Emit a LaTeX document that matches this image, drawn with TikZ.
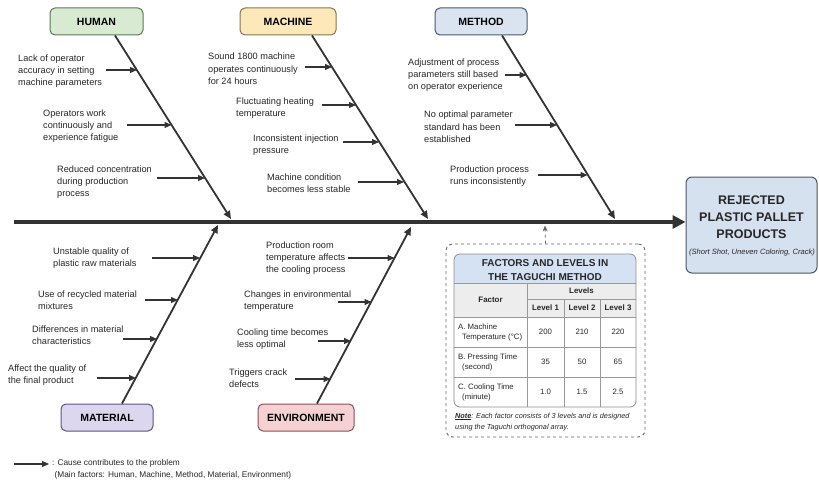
\documentclass[tikz,border=0pt]{standalone}
\usepackage{fontspec}
\setmainfont{Liberation Sans}
\usepackage{xcolor}
\usepackage{tikz}
\usetikzlibrary{arrows.meta,positioning}

\definecolor{humanfill}{HTML}{D9EAD3}
\definecolor{humandraw}{HTML}{5E7656}
\definecolor{machfill}{HTML}{FCE8B9}
\definecolor{machdraw}{HTML}{857650}
\definecolor{methfill}{HTML}{DAE4F1}
\definecolor{methdraw}{HTML}{4A5970}
\definecolor{matfill}{HTML}{DCD7EE}
\definecolor{matdraw}{HTML}{5A5484}
\definecolor{envfill}{HTML}{F5D1D3}
\definecolor{envdraw}{HTML}{8C4E56}
\definecolor{efffill}{HTML}{D6E1F0}
\definecolor{effdraw}{HTML}{4A5668}
\definecolor{ttlfill}{HTML}{D4E2F4}
\definecolor{hdrfill}{HTML}{EDEDED}
\definecolor{arrowgray}{HTML}{333333}
\definecolor{textgray}{HTML}{262626}

\begin{document}
\begin{tikzpicture}[x=1pt, y=-1pt,
			cat/.style={draw, rounded corners=5pt, line width=1pt, minimum width=93pt,
				minimum height=27pt, inner sep=0pt, font=\fontsize{10.5}{12}\selectfont\bfseries},
			humannd/.style={cat, fill=humanfill, draw=humandraw},
			machnd/.style ={cat, minimum width=96pt, fill=machfill, draw=machdraw},
			methnd/.style ={cat, minimum width=92pt, fill=methfill, draw=methdraw},
			matnd/.style  ={cat, minimum width=92pt, fill=matfill,  draw=matdraw},
			envnd/.style  ={cat, minimum width=96pt, fill=envfill,  draw=envdraw},
			effnd/.style  ={draw=effdraw, fill=efffill, line width=1pt, rounded corners=6pt,
				minimum width=131pt, minimum height=96pt},
			cause/.style={font=\fontsize{9.2}{12.3}\selectfont, align=left, inner sep=0pt,
				anchor=west, text=textgray},
			spine/.style={line width=3.5pt, draw=arrowgray, -{Triangle[length=13pt,width=13pt]}},
			bone/.style ={line width=1.8pt, draw=arrowgray, -{Triangle[length=8pt,width=7pt]}},
			sub/.style  ={line width=1.1pt, draw=arrowgray, -{Triangle[length=7pt,width=6pt]}},
			panel/.style={draw=black!60, dashed, line width=0.9pt, rounded corners=7pt,
				minimum width=199pt, minimum height=193pt, inner sep=0pt},
			tblbox/.style={draw=black!45, line width=0.8pt, rounded corners=6pt,
				minimum width=182pt, minimum height=153pt, inner sep=0pt},
			grid/.style={draw=black!40, line width=0.6pt},
			cell/.style={font=\fontsize{7.8}{10}\selectfont, inner sep=0pt, text=textgray},
			hcell/.style={cell, font=\fontsize{7.9}{10}\selectfont\bfseries},
			fcell/.style={cell, align=left, anchor=west},
			]
			
			\useasboundingbox (0,0) rectangle (819,484);
			
			%% ── Effect (head of the fish) ─────────────────────────────────────────────
			\node[effnd] (effect) at (751.5,225) {};
			\node[font=\fontsize{12.5}{17}\selectfont\bfseries, align=center, text=textgray]
				(efftitle) at (751.5,217) {REJECTED\\PLASTIC PALLET\\PRODUCTS};
			\node[font=\fontsize{7.6}{9}\selectfont\itshape, text=textgray, inner sep=0pt]
				(effsub) at (752,253) {(Short Shot, Uneven Coloring, Crack)};
			
			%% ── Spine ─────────────────────────────────────────────────────────────────
			\coordinate (tail) at (14,222);
			\draw[spine] (tail) -- (tail -| effect.west);
			
			%% ── Main categories ───────────────────────────────────────────────────────
			\node[humannd] (human)   at (96.5,21.5)  {HUMAN};
			\node[machnd]  (machine) at (288,21.5)   {MACHINE};
			\node[methnd]  (method)  at (481,21.5)   {METHOD};
			\node[matnd]   (material) at (107,417.5) {MATERIAL};
			\node[envnd]   (environment) at (306,417.5) {ENVIRONMENT};
			
			%% ── Bones ─────────────────────────────────────────────────────────────────
			\coordinate (hend) at (231,219);
			\coordinate (mend) at (428,219);
			\coordinate (dend) at (615,219);
			\coordinate (aend) at (218,225);
			\coordinate (eend) at (411,227);
			\draw[bone] ([xshift=18.5pt]human.south)   -- (hend);
			\draw[bone] ([xshift=24pt]machine.south)   -- (mend);
			\draw[bone] ([xshift=21pt]method.south)    -- (dend);
			\draw[bone] ([xshift=15pt]material.north)  -- (aend);
			\draw[bone] ([xshift=11pt]environment.north) -- (eend);
			
			%% ── Human causes ──────────────────────────────────────────────────────────
			\node[cause] (h1) at (18,71)  {Lack of operator\\accuracy in setting\\machine parameters};
			\node[cause] (h2) at (43,126) {Operators work\\continuously and\\experience fatigue};
			\node[cause] (h3) at (57,182) {Reduced concentration\\during production\\process};
			\coordinate (h1s) at (106,70);  \coordinate (h1e) at (137,70);
			\coordinate (h2s) at (127,125); \coordinate (h2e) at (171.5,125);
			\coordinate (h3s) at (157,178); \coordinate (h3e) at (205,178);
			\draw[sub] (h1s) -- (h1e);
			\draw[sub] (h2s) -- (h2e);
			\draw[sub] (h3s) -- (h3e);
			
			%% ── Machine causes ────────────────────────────────────────────────────────
			\node[cause] (m1) at (208,69)  {Sound 1800 machine\\operates continuously\\for 24 hours};
			\node[cause] (m2) at (236,108) {Fluctuating heating\\temperature};
			\node[cause] (m3) at (253,145) {Inconsistent injection\\pressure};
			\node[cause] (m4) at (267,183) {Machine condition\\becomes less stable};
			\coordinate (m1s) at (305,67);  \coordinate (m1e) at (332,67);
			\coordinate (m2s) at (322,105); \coordinate (m2e) at (356,105);
			\coordinate (m3s) at (343,142); \coordinate (m3e) at (379,142);
			\coordinate (m4s) at (358,182); \coordinate (m4e) at (404,182);
			\draw[sub] (m1s) -- (m1e);
			\draw[sub] (m2s) -- (m2e);
			\draw[sub] (m3s) -- (m3e);
			\draw[sub] (m4s) -- (m4e);
			
			%% ── Method causes ─────────────────────────────────────────────────────────
			\node[cause] (d1) at (408,75)  {Adjustment of process\\parameters still based\\on operator experience};
			\node[cause] (d2) at (424,127) {No optimal parameter\\standard has been\\established};
			\node[cause] (d3) at (450,176) {Production process\\runs inconsistently};
			\coordinate (d1s) at (505,75);  \coordinate (d1e) at (526.5,75);
			\coordinate (d2s) at (515,125); \coordinate (d2e) at (557,125);
			\coordinate (d3s) at (538,175); \coordinate (d3e) at (587.5,175);
			\draw[sub] (d1s) -- (d1e);
			\draw[sub] (d2s) -- (d2e);
			\draw[sub] (d3s) -- (d3e);
			
			%% ── Material causes ───────────────────────────────────────────────────────
			\node[cause] (a1) at (53,258) {Unstable quality of\\plastic raw materials};
			\node[cause] (a2) at (38,300) {Use of recycled material\\mixtures};
			\node[cause] (a3) at (32,335) {Differences in material\\characteristics};
			\node[cause] (a4) at (8,375)  {Affect the quality of\\the final product};
			\coordinate (a1s) at (152,258); \coordinate (a1e) at (200,258);
			\coordinate (a2s) at (145,300); \coordinate (a2e) at (178,300);
			\coordinate (a3s) at (123,339); \coordinate (a3e) at (157,339);
			\coordinate (a4s) at (97,378);  \coordinate (a4e) at (136,378);
			\draw[sub] (a1s) -- (a1e);
			\draw[sub] (a2s) -- (a2e);
			\draw[sub] (a3s) -- (a3e);
			\draw[sub] (a4s) -- (a4e);
			
			%% ── Environment causes ────────────────────────────────────────────────────
			\node[cause] (e1) at (266,258) {Production room\\temperature affects\\the cooling process};
			\node[cause] (e2) at (244,301) {Changes in environmental\\temperature};
			\node[cause] (e3) at (237,339) {Cooling time becomes\\less optimal};
			\node[cause] (e4) at (229,378) {Triggers crack\\defects};
			\coordinate (e1s) at (348,258); \coordinate (e1e) at (394.5,258);
			\coordinate (e2s) at (338,302); \coordinate (e2e) at (371.5,302);
			\coordinate (e3s) at (318,341); \coordinate (e3e) at (351,341);
			\coordinate (e4s) at (295,379); \coordinate (e4e) at (330.5,379);
			\draw[sub] (e1s) -- (e1e);
			\draw[sub] (e2s) -- (e2e);
			\draw[sub] (e3s) -- (e3e);
			\draw[sub] (e4s) -- (e4e);
			
			%% ── Taguchi panel ─────────────────────────────────────────────────────────
			\node[panel] (panel) at (545.5,340.5) {};
			\coordinate (plink) at (545,225.5);
			\draw[draw=black!60, dashed, line width=0.8pt, -{Stealth[length=6pt,width=5pt]}]
				(panel.north) -- (plink);
			
			\begin{scope}
				\clip[rounded corners=6pt] (454,254) rectangle (636,407);
				\fill[ttlfill] (454,254) rectangle (636,283);
				\fill[hdrfill] (454,283) rectangle (636,317);
				\draw[grid] (454,283) -- (636,283);
				\draw[grid] (527,299) -- (636,299);
				\draw[grid] (454,317) -- (636,317);
				\draw[grid] (454,347) -- (636,347);
				\draw[grid] (454,377) -- (636,377);
				\draw[grid] (527,283) -- (527,407);
				\draw[grid] (564,299) -- (564,407);
				\draw[grid] (600,299) -- (600,407);
			\end{scope}
			\node[tblbox] (tbl) at (545,330.5) {};
			
			\node[font=\fontsize{10}{13.5}\selectfont\bfseries, align=center, inner sep=0pt, text=textgray]
				(tbltitle) at (545,270) {FACTORS AND LEVELS IN\\THE TAGUCHI METHOD};
			\node[hcell] (tfactor) at (490.5,300) {Factor};
			\node[hcell] (tlevels) at (581.5,291) {Levels};
			\node[hcell] (tl1) at (545.5,308) {Level 1};
			\node[hcell] (tl2) at (582,308)   {Level 2};
			\node[hcell] (tl3) at (618,308)   {Level 3};
			
			\node[fcell] (ta) at (458,332) {A. Machine\\\hspace*{4pt}Temperature (°C)};
			\node[cell] (ta1) at (545.5,332) {200};
			\node[cell] (ta2) at (582,332)   {210};
			\node[cell] (ta3) at (618,332)   {220};
			
			\node[fcell] (tb) at (458,362) {B. Pressing Time\\\hspace*{4pt}(second)};
			\node[cell] (tb1) at (545.5,362) {35};
			\node[cell] (tb2) at (582,362)   {50};
			\node[cell] (tb3) at (618,362)   {65};
			
			\node[fcell] (tc) at (458,392) {C. Cooling Time\\\hspace*{4pt}(minute)};
			\node[cell] (tc1) at (545.5,392) {1.0};
			\node[cell] (tc2) at (582,392)   {1.5};
			\node[cell] (tc3) at (618,392)   {2.5};
			
			\node[font=\fontsize{7.3}{11.5}\selectfont\itshape, align=left, anchor=west, inner sep=0pt,
				text=textgray] (tnote) at (455,422)
				{\underline{\textbf{Note}}: Each factor consists of 3 levels and is designed\\using the Taguchi orthogonal array.};
			
			%% ── Legend ────────────────────────────────────────────────────────────────
			\coordinate (legs) at (14,464);
			\node[font=\fontsize{8.3}{12.5}\selectfont, align=left, anchor=north west, inner sep=0pt,
				text=textgray] (legtxt) at (52,459)
				{: Cause contributes to the problem\\\hspace*{2.5pt}(Main factors: Human, Machine, Method, Material, Environment)};
			\coordinate (lege) at (49,464);
			\draw[sub] (legs) -- (lege);
			
		\end{tikzpicture}
\end{document}
